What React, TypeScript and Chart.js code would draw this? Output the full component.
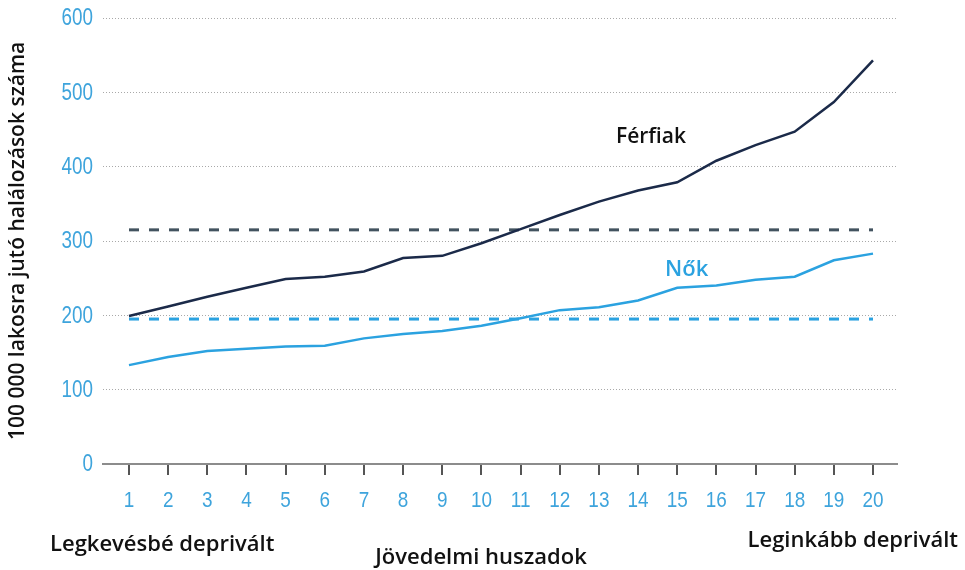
import React, { useEffect, useRef } from "react";
import { Chart, registerables } from "chart.js";

Chart.register(...registerables);

const categories = [1, 2, 3, 4, 5, 6, 7, 8, 9, 10, 11, 12, 13, 14, 15, 16, 17, 18, 19, 20];
const men = [199, 212, 225, 237, 249, 252, 259, 277, 280, 297, 316, 335, 353, 368, 379, 408, 429, 447, 487, 543];
const women = [133, 144, 152, 155, 158, 159, 169, 175, 179, 186, 196, 207, 211, 220, 237, 240, 248, 252, 274, 283];
const menAverage = 315;
const womenAverage = 195;
const yTicks = [0, 100, 200, 300, 400, 500, 600];

const yTitle = "100 000 lakosra jutó halálozások száma";
const xTitle = "Jövedelmi huszadok";
const leftNote = "Legkevésbé deprivált";
const rightNote = "Leginkább deprivált";
const menLabel = "Férfiak";
const womenLabel = "Nők";

const NAVY = "#1b2a49";
const BLUE = "#2ba2e0";
const TICK_BLUE = "#3ea4dc";
const TEXT_FONT = "'Open Sans', 'Noto Sans', sans-serif";
const NUM_FONT = "'Liberation Sans', Arial, sans-serif";

function condensedText(ctx: any, text: string, x: number, y: number, align: string, sx: number) {
  ctx.save();
  ctx.translate(x, y);
  ctx.scale(sx, 1);
  ctx.textAlign = align;
  ctx.fillText(text, 0, 0);
  ctx.restore();
}

export default function App() {
  const ref = useRef<HTMLCanvasElement | null>(null);

  useEffect(() => {
    if (!ref.current) return;
    const first = categories[0];
    const last = categories[categories.length - 1];

    const textPlugin = {
      id: "texts",
      beforeDraw(chart: any) {
        const ctx = chart.ctx;
        ctx.save();
        ctx.fillStyle = "#ffffff";
        ctx.fillRect(0, 0, chart.width, chart.height);
        ctx.restore();
      },
      afterDraw(chart: any) {
        const ctx = chart.ctx;
        const xs = chart.scales.x;
        const ys = chart.scales.y;
        ctx.save();
        ctx.textBaseline = "middle";

        // tick labels (condensed numerals)
        ctx.fillStyle = TICK_BLUE;
        ctx.font = `23px ${NUM_FONT}`;
        yTicks.forEach((v) => {
          condensedText(ctx, String(v), 93, ys.getPixelForValue(v) + 1, "right", 0.82);
        });
        ctx.font = `22px ${NUM_FONT}`;
        categories.forEach((c) => {
          condensedText(ctx, String(c), xs.getPixelForValue(c), xs.top + 37, "center", 0.86);
        });

        // y title
        ctx.save();
        ctx.translate(18, 241);
        ctx.rotate(-Math.PI / 2);
        ctx.textAlign = "center";
        ctx.fillStyle = "#111";
        ctx.font = `600 21px ${TEXT_FONT}`;
        ctx.fillText(yTitle, 0, 0);
        ctx.restore();

        ctx.font = `600 22px ${TEXT_FONT}`;
        ctx.fillStyle = "#111";
        ctx.textAlign = "left";
        ctx.fillText(leftNote, 50, 545);
        ctx.textAlign = "center";
        ctx.fillText(xTitle, 481, 558);
        ctx.textAlign = "right";
        ctx.fillText(rightNote, 958, 541);

        ctx.textAlign = "center";
        ctx.font = `600 21px ${TEXT_FONT}`;
        ctx.fillStyle = "#111";
        ctx.fillText(menLabel, xs.getPixelForValue(14.33), ys.getPixelForValue(440));
        ctx.font = `600 22px ${TEXT_FONT}`;
        ctx.fillStyle = BLUE;
        ctx.fillText(womenLabel, xs.getPixelForValue(15.24), ys.getPixelForValue(261));
        ctx.restore();
      },
    };

    const chart = new Chart(ref.current, {
      type: "line",
      data: {
        datasets: [
          {
            data: categories.map((c, i) => ({ x: c, y: men[i] })),
            borderColor: NAVY,
            borderWidth: 2.5,
            pointRadius: 0,
            tension: 0,
            order: 1,
          },
          {
            data: categories.map((c, i) => ({ x: c, y: women[i] })),
            borderColor: BLUE,
            borderWidth: 2.5,
            pointRadius: 0,
            tension: 0,
            order: 2,
          },
          {
            data: [
              { x: first, y: menAverage },
              { x: last, y: menAverage },
            ],
            borderColor: "#42535f",
            borderWidth: 3,
            borderDash: [10, 10],
            borderCapStyle: "butt",
            pointRadius: 0,
            order: 3,
          },
          {
            data: [
              { x: first, y: womenAverage },
              { x: last, y: womenAverage },
            ],
            borderColor: BLUE,
            borderWidth: 3,
            borderDash: [10, 10],
            borderCapStyle: "butt",
            pointRadius: 0,
            order: 4,
          },
        ],
      },
      options: {
        responsive: false,
        animation: false,
        layout: { padding: { top: 18, right: 68, left: 0, bottom: 0 } },
        plugins: { legend: { display: false }, tooltip: { enabled: false } },
        scales: {
          x: {
            type: "linear",
            min: 0.336,
            max: 20.613,
            afterBuildTicks: (s: any) => {
              s.ticks = categories.map((v) => ({ value: v }));
            },
            afterFit: (s: any) => {
              s.height = 106;
            },
            grid: {
              drawOnChartArea: false,
              drawTicks: true,
              tickLength: 11,
              tickColor: "#555",
              lineWidth: 2,
            },
            border: { display: true, color: "#8c8c8c", width: 2 },
            ticks: { display: false, autoSkip: false },
          },
          y: {
            min: 0,
            max: 600,
            afterBuildTicks: (s: any) => {
              s.ticks = yTicks.map((v) => ({ value: v }));
            },
            afterFit: (s: any) => {
              s.width = 103;
            },
            grid: {
              color: (c: any) => (c.tick && c.tick.value === 0 ? "rgba(0,0,0,0)" : "#a9a9a9"),
              lineWidth: 1,
              drawTicks: false,
            },
            border: { display: false, dash: [1, 2] },
            ticks: { display: false },
          },
        },
      },
      plugins: [textPlugin],
    } as any);

    return () => chart.destroy();
  }, []);

  return (
    <div style={{ position: "absolute", left: 0, top: 0, width: 965, height: 570, background: "#fff" }}>
      <canvas ref={ref} width={965} height={570} />
    </div>
  );
}
